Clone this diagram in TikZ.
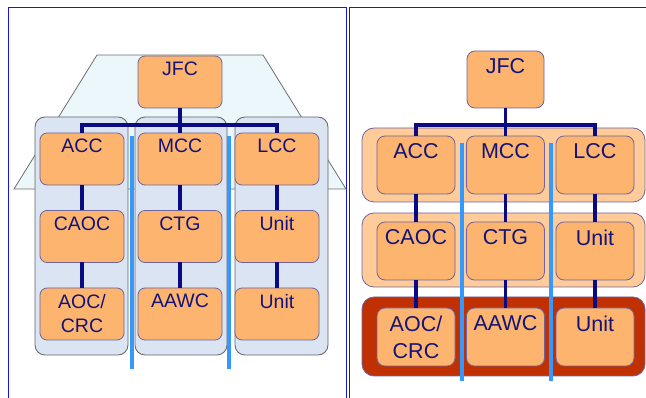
\documentclass[tikz,border=0pt]{standalone}
\usepackage{fontspec}
\setmainfont{Liberation Sans}
\definecolor{boxfill}{RGB}{252,180,110}
\definecolor{boxline}{RGB}{110,100,160}
\definecolor{txt}{RGB}{20,20,120}
\definecolor{navy}{RGB}{10,10,130}
\definecolor{bandlight}{RGB}{255,204,153}
\definecolor{banddark}{RGB}{192,48,0}
\definecolor{colfill}{RGB}{218,228,242}
\definecolor{colline}{RGB}{100,100,100}
\definecolor{roofill}{RGB}{235,247,250}
\definecolor{roofline}{RGB}{110,110,110}
\definecolor{barblue}{RGB}{51,153,255}
\definecolor{panelblue}{RGB}{20,20,240}
\begin{document}
\begin{tikzpicture}[x=1pt,y=-1pt,
  panel/.style={draw=panelblue, line width=1pt},
  boxL/.style={draw=boxline, fill=boxfill, line width=0.8pt, rounded corners=7pt,
    minimum width=84pt, minimum height=52pt, inner sep=0pt, outer sep=0pt},
  boxR/.style={draw=boxline, fill=boxfill, line width=0.8pt, rounded corners=8pt,
    minimum width=78pt, minimum height=58pt, inner sep=0pt, outer sep=0pt},
  lblL/.style={anchor=north, yshift=-6pt, inner sep=0pt, text=txt, align=center,
    font=\fontsize{19.5}{24}\selectfont},
  lblR/.style={anchor=north, yshift=-7.5pt, inner sep=0pt, text=txt, align=center,
    font=\fontsize{21.5}{27}\selectfont},
  conn/.style={draw=navy, line width=3.2pt},
  colbox/.style={draw=colline, fill=colfill, line width=0.8pt, rounded corners=10pt},
  bandbox/.style={draw=boxline, line width=0.8pt, rounded corners=12pt},
  bar/.style={draw=barblue, line width=4pt}
]
\useasboundingbox (0,0) rectangle (646,398);

% ---------- left panel ----------
\draw[panel] (8,398) -- (8,8) -- (346,8) -- (346,398);
\draw[fill=roofill, draw=roofline, line width=0.8pt]
  (97,55) -- (263,55) -- (346,189) -- (14,189) -- cycle;
\draw[colbox] (35,117) rectangle (128,355);
\draw[colbox] (135,117) rectangle (227,355);
\draw[colbox] (235,117) rectangle (328,355);
\draw[bar] (132,136) -- (132,369);
\draw[bar] (229,136) -- (229,369);

\node[boxL, label={[lblL]north:JFC}] (jfcL) at (180,82) {};
\node[boxL, label={[lblL]north:ACC}] (accL) at (82,159) {};
\node[boxL, label={[lblL]north:MCC}] (mccL) at (180,159) {};
\node[boxL, label={[lblL]north:LCC}] (lccL) at (277,159) {};
\node[boxL, label={[lblL]north:CAOC}] (caocL) at (82,236.5) {};
\node[boxL, label={[lblL]north:CTG}] (ctgL) at (180,236.5) {};
\node[boxL, label={[lblL]north:Unit}] (unitaL) at (277,236.5) {};
\node[boxL, label={[lblL]north:AOC/\\CRC}] (aocL) at (82,314) {};
\node[boxL, label={[lblL]north:AAWC}] (aawcL) at (180,314) {};
\node[boxL, label={[lblL]north:Unit}] (unitbL) at (277,314) {};

\coordinate (busL) at (180,125);
\draw[conn] (jfcL.south) -- (mccL.north);
\draw[conn, line join=miter] (accL.north) |- (busL) -| (lccL.north);
\draw[conn] (accL.south) -- (caocL.north);
\draw[conn] (caocL.south) -- (aocL.north);
\draw[conn] (mccL.south) -- (ctgL.north);
\draw[conn] (ctgL.south) -- (aawcL.north);
\draw[conn] (lccL.south) -- (unitaL.north);
\draw[conn] (unitaL.south) -- (unitbL.north);

% ---------- right panel ----------
\draw[panel] (349,398) -- (349,8) -- (646,8);
\draw[bandbox, fill=bandlight] (362,128) rectangle (645,202);
\draw[bandbox, fill=bandlight] (362,213) rectangle (645,287);
\draw[bandbox, fill=banddark] (362,297) rectangle (645,376);

\node[boxR, minimum width=77pt, minimum height=57pt, label={[lblR]north:JFC}] (jfcR) at (505.5,79.5) {};
\node[boxR, label={[lblR]north:ACC}] (accR) at (416,165) {};
\node[boxR, label={[lblR]north:MCC}] (mccR) at (505.5,165) {};
\node[boxR, label={[lblR]north:LCC}] (lccR) at (595,165) {};
\node[boxR, label={[lblR]north:CAOC}] (caocR) at (416,251) {};
\node[boxR, label={[lblR]north:CTG}] (ctgR) at (505.5,251) {};
\node[boxR, label={[lblR]north:Unit}] (unitaR) at (595,251) {};
\node[boxR, label={[lblR]north:AOC/\\CRC}] (aocR) at (416,337) {};
\node[boxR, label={[lblR]north:AAWC}] (aawcR) at (505.5,337) {};
\node[boxR, label={[lblR]north:Unit}] (unitbR) at (595,337) {};

\coordinate (busR) at (505.5,125);
\draw[conn] (jfcR.south) -- (mccR.north);
\draw[conn, line join=miter] (accR.north) |- (busR) -| (lccR.north);
\draw[conn] (accR.south) -- (caocR.north);
\draw[conn] (caocR.south) -- (aocR.north);
\draw[conn] (mccR.south) -- (ctgR.north);
\draw[conn] (ctgR.south) -- (aawcR.north);
\draw[conn] (lccR.south) -- (unitaR.north);
\draw[conn] (unitaR.south) -- (unitbR.north);

\draw[bar] (462,143) -- (462,381);
\draw[bar] (551,143) -- (551,381);
\end{tikzpicture}
\end{document}
